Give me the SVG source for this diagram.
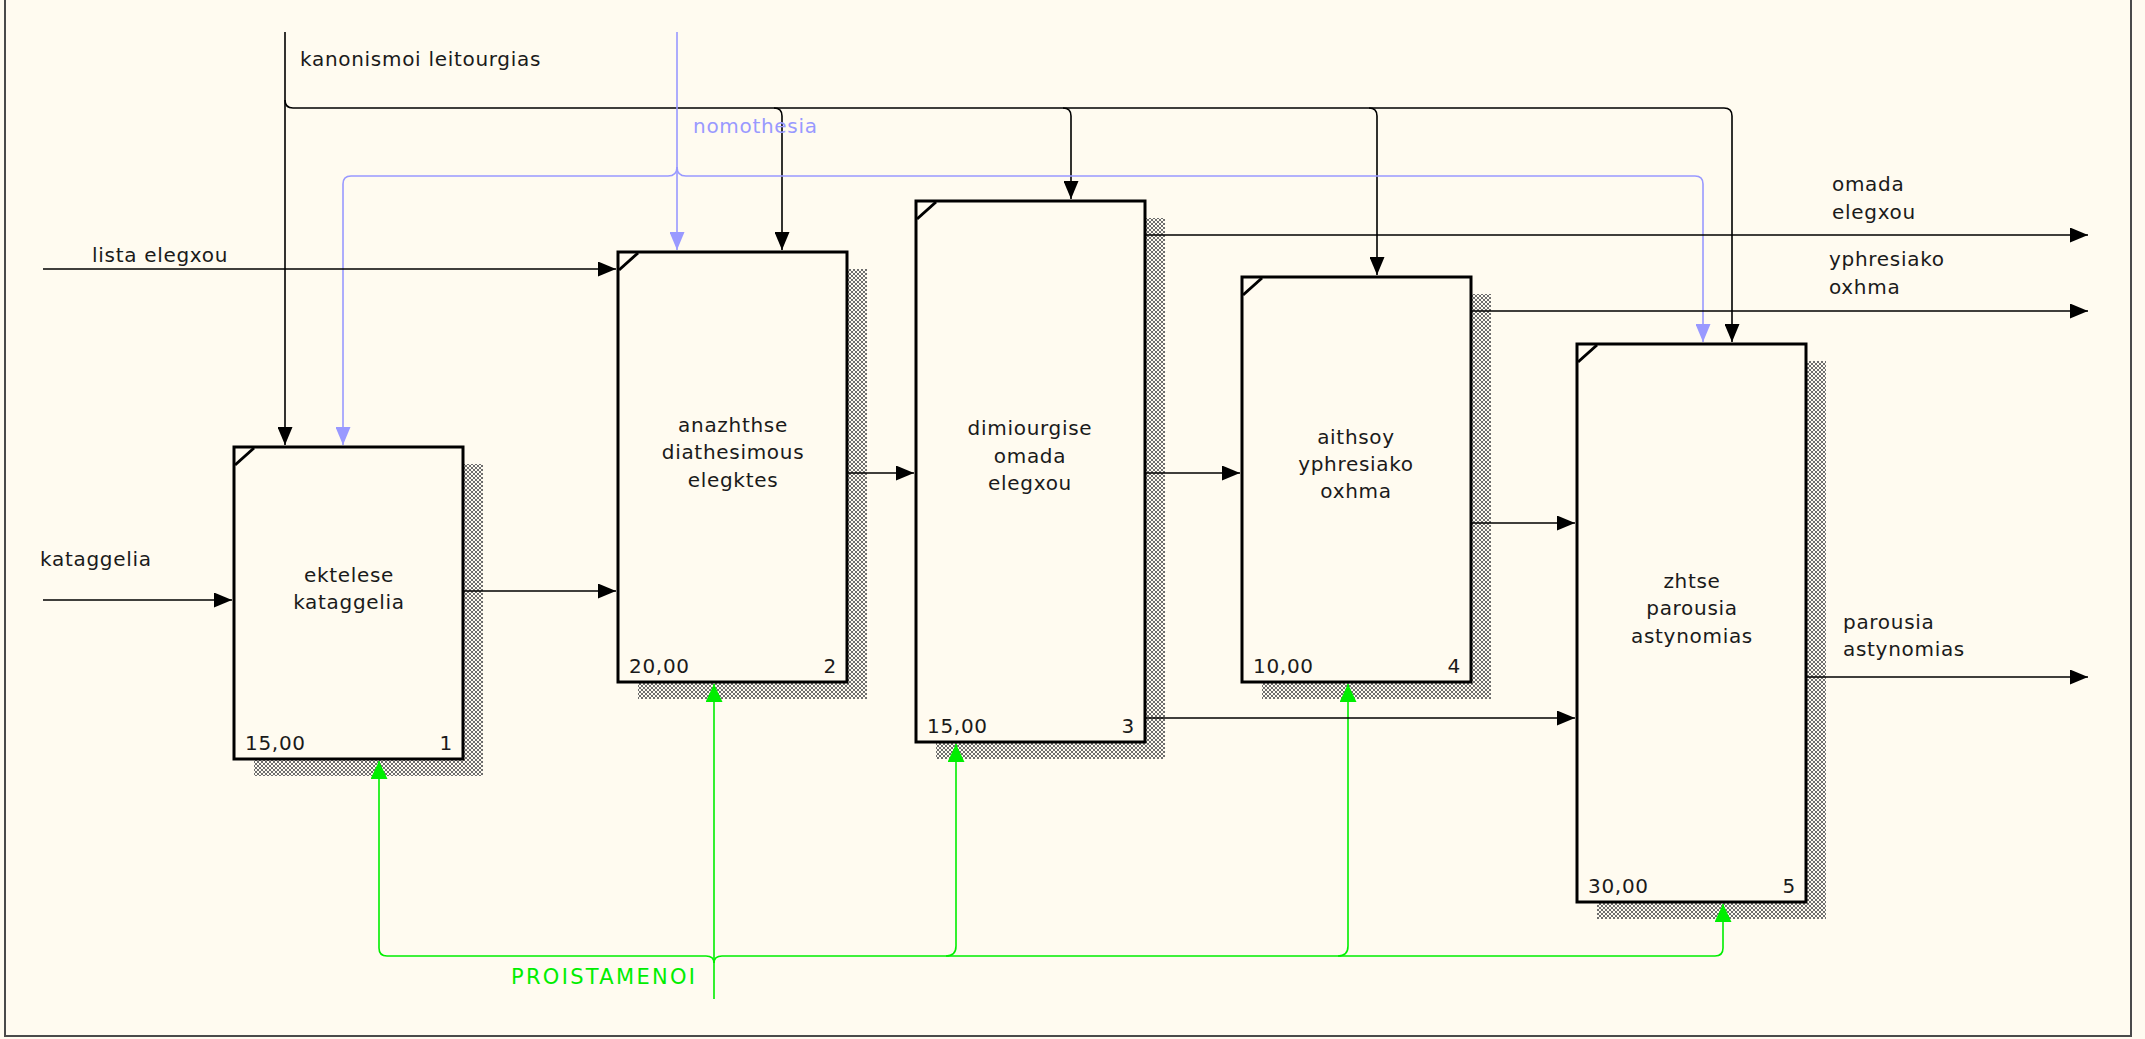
<svg xmlns="http://www.w3.org/2000/svg" width="2145" height="1039" viewBox="0 0 2145 1039">
<style>
.bg{fill:#fffbf0}
.frame{fill:none;stroke:#4a4a4a;stroke-width:2}
.box{fill:#fffbf0;stroke:#000;stroke-width:3}
.shadow{fill:url(#hatch)}
.corner{stroke:#000;stroke-width:3}
.t{font-family:"DejaVu Sans","Liberation Sans",sans-serif;font-size:20px;fill:#1a1a1a;letter-spacing:0.7px}
.c{text-anchor:middle}
.e{text-anchor:end}
.ln{fill:none;stroke:#000;stroke-width:1.6}
.bl{fill:none;stroke:#9999ff;stroke-width:1.6}
.gr{fill:none;stroke:#00ee00;stroke-width:1.6}
.tb{fill:#9999ff}
.tg{fill:#00ee00;letter-spacing:2.3px;font-size:21px}
</style>
<defs>
<pattern id="hatch" width="4" height="4" patternUnits="userSpaceOnUse">
<rect width="4" height="4" fill="#fffbf0"/>
<path d="M0 0h1v1h-1zM1 1h1v1h-1zM2 2h1v1h-1zM3 3h1v1h-1zM3 0h1v1h-1zM2 1h1v1h-1zM1 2h1v1h-1zM0 3h1v1h-1z" fill="#6e6e6e"/>
</pattern>
<marker id="ak" markerUnits="userSpaceOnUse" markerWidth="19" markerHeight="15" refX="18" refY="7.5" orient="auto"><path d="M0 0L18 7.5L0 15z" fill="#000"/></marker>
<marker id="ab" markerUnits="userSpaceOnUse" markerWidth="19" markerHeight="15" refX="18" refY="7.5" orient="auto"><path d="M0 0L18 7.5L0 15z" fill="#9999ff"/></marker>
<marker id="ag" markerUnits="userSpaceOnUse" markerWidth="19" markerHeight="17" refX="18" refY="8.5" orient="auto"><path d="M0 0L18 8.5L0 17z" fill="#00ee00"/></marker>
</defs>
<rect class="bg" x="0" y="0" width="2145" height="1039"/>
<path class="frame" d="M5 0V1036H2131V0"/>

<g id="node1">
<rect class="shadow" x="254" y="464" width="229" height="312"/>
<rect class="box" x="234" y="447" width="229" height="312"/>
<line class="corner" x1="254" y1="448" x2="235" y2="465"/>
<text class="t c" x="349" y="582">ektelese</text>
<text class="t c" x="349" y="609">kataggelia</text>
<text class="t" x="245" y="750">15,00</text>
<text class="t e" x="453" y="750">1</text>
</g>

<g id="node2">
<rect class="shadow" x="638" y="269" width="229" height="430"/>
<rect class="box" x="618" y="252" width="229" height="430"/>
<line class="corner" x1="638" y1="253" x2="619" y2="270"/>
<text class="t c" x="733" y="432">anazhthse</text>
<text class="t c" x="733" y="459">diathesimous</text>
<text class="t c" x="733" y="487">elegktes</text>
<text class="t" x="629" y="673">20,00</text>
<text class="t e" x="837" y="673">2</text>
</g>

<g id="node3">
<rect class="shadow" x="936" y="218" width="229" height="541"/>
<rect class="box" x="916" y="201" width="229" height="541"/>
<line class="corner" x1="936" y1="202" x2="917" y2="219"/>
<text class="t c" x="1030" y="435">dimiourgise</text>
<text class="t c" x="1030" y="463">omada</text>
<text class="t c" x="1030" y="490">elegxou</text>
<text class="t" x="927" y="733">15,00</text>
<text class="t e" x="1135" y="733">3</text>
</g>

<g id="node4">
<rect class="shadow" x="1262" y="294" width="229" height="405"/>
<rect class="box" x="1242" y="277" width="229" height="405"/>
<line class="corner" x1="1262" y1="278" x2="1243" y2="295"/>
<text class="t c" x="1356" y="444">aithsoy</text>
<text class="t c" x="1356" y="471">yphresiako</text>
<text class="t c" x="1356" y="498">oxhma</text>
<text class="t" x="1253" y="673">10,00</text>
<text class="t e" x="1461" y="673">4</text>
</g>

<g id="node5">
<rect class="shadow" x="1597" y="361" width="229" height="558"/>
<rect class="box" x="1577" y="344" width="229" height="558"/>
<line class="corner" x1="1597" y1="345" x2="1578" y2="362"/>
<text class="t c" x="1692" y="588">zhtse</text>
<text class="t c" x="1692" y="615">parousia</text>
<text class="t c" x="1692" y="643">astynomias</text>
<text class="t" x="1588" y="893">30,00</text>
<text class="t e" x="1796" y="893">5</text>
</g>

<g id="connectors">
<path class="ln" d="M285 32V445" marker-end="url(#ak)"/>
<path class="ln" d="M285 100Q285 108 293 108H1724Q1732 108 1732 116V342" marker-end="url(#ak)"/>
<path class="ln" d="M774 108Q782 108 782 116V250" marker-end="url(#ak)"/>
<path class="ln" d="M1063 108Q1071 108 1071 116V199" marker-end="url(#ak)"/>
<path class="ln" d="M1369 108Q1377 108 1377 116V275" marker-end="url(#ak)"/>

<path class="bl" d="M677 32V250" marker-end="url(#ab)"/>
<path class="bl" d="M677 167Q677 176 668 176H351Q343 176 343 184V445" marker-end="url(#ab)"/>
<path class="bl" d="M677 167Q677 176 686 176H1695Q1703 176 1703 184V342" marker-end="url(#ab)"/>

<path class="gr" d="M714 999V684" marker-end="url(#ag)"/>
<path class="gr" d="M714 963Q714 956 706 956H387Q379 956 379 948V761" marker-end="url(#ag)"/>
<path class="gr" d="M714 963Q714 956 722 956H1715Q1723 956 1723 948V904" marker-end="url(#ag)"/>
<path class="gr" d="M946 956Q956 956 956 946V744" marker-end="url(#ag)"/>
<path class="gr" d="M1338 956Q1348 956 1348 946V684" marker-end="url(#ag)"/>

<path class="ln" d="M43 269H616" marker-end="url(#ak)"/>
<path class="ln" d="M43 600H232" marker-end="url(#ak)"/>
<path class="ln" d="M463 591H616" marker-end="url(#ak)"/>
<path class="ln" d="M847 473H914" marker-end="url(#ak)"/>
<path class="ln" d="M1145 473H1240" marker-end="url(#ak)"/>
<path class="ln" d="M1145 718H1575" marker-end="url(#ak)"/>
<path class="ln" d="M1471 523H1575" marker-end="url(#ak)"/>
<path class="ln" d="M1145 235H2088" marker-end="url(#ak)"/>
<path class="ln" d="M1471 311H2088" marker-end="url(#ak)"/>
<path class="ln" d="M1806 677H2088" marker-end="url(#ak)"/>
</g>

<g id="labels">
<text class="t" x="300" y="66">kanonismoi leitourgias</text>
<text class="t tb" x="693" y="133">nomothesia</text>
<text class="t" x="92" y="262">lista elegxou</text>
<text class="t" x="40" y="566">kataggelia</text>
<text class="t" x="1832" y="191">omada</text>
<text class="t" x="1832" y="219">elegxou</text>
<text class="t" x="1829" y="266">yphresiako</text>
<text class="t" x="1829" y="294">oxhma</text>
<text class="t" x="1843" y="629">parousia</text>
<text class="t" x="1843" y="656">astynomias</text>
<text class="t tg" x="511" y="984">PROISTAMENOI</text>
</g>
</svg>
